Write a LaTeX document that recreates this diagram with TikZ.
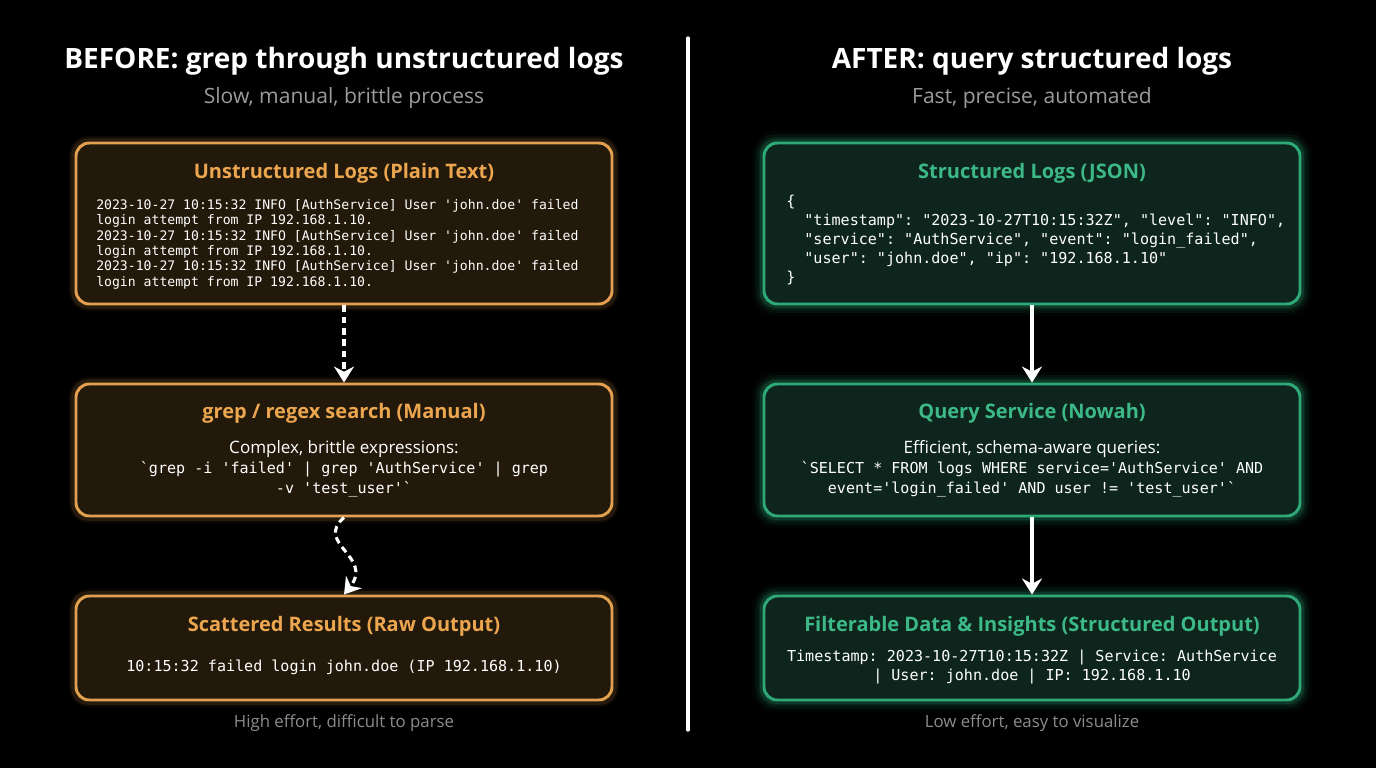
\documentclass[tikz,border=0pt]{standalone}
\usepackage{fontspec}
\setmainfont{Open Sans}
\setmonofont{DejaVu Sans Mono}
\usepackage{tikz}
\usetikzlibrary{arrows.meta,positioning,calc,backgrounds}
\definecolor{ornEdge}{RGB}{226,160,80}
\definecolor{ornFill}{RGB}{35,25,10}
\definecolor{ornText}{RGB}{236,166,80}
\definecolor{grnEdge}{RGB}{45,170,120}
\definecolor{grnFill}{RGB}{13,37,29}
\definecolor{grnText}{RGB}{60,185,135}
\definecolor{subGray}{RGB}{155,155,155}
\definecolor{capGray}{RGB}{140,140,140}
\tikzset{
  obox/.style={draw=ornEdge,line width=2.2pt,rounded corners=10pt,fill=ornFill,
    minimum width=402pt,inner sep=0pt},
  gbox/.style={draw=grnEdge,line width=2.2pt,rounded corners=10pt,fill=grnFill,
    minimum width=402pt,inner sep=0pt},
  head/.style={font=\bfseries\fontsize{21}{25}\selectfont,text=white},
  subhead/.style={font=\fontsize{15.8}{19}\selectfont,text=subGray},
  foot/.style={font=\fontsize{12.6}{15}\selectfont,text=capGray},
  otitle/.style={font=\bfseries\fontsize{15}{18}\selectfont,text=ornText},
  gtitle/.style={font=\bfseries\fontsize{15}{18}\selectfont,text=grnText},
  plain/.style={font=\fontsize{12.8}{15}\selectfont,text=white,inner sep=0pt},
  code/.style={font=\ttfamily\fontsize{11.3}{14.3}\selectfont,text=white,inner sep=0pt},
  arr/.style={-{Stealth[length=12pt,width=15pt]},line width=2.3pt,white},
  darr/.style={arr,dash pattern=on 5pt off 3.5pt},
}
\begin{document}
\begin{tikzpicture}[x=0.75pt,y=-0.75pt]
  \useasboundingbox (0,0) rectangle (1376,768);
  % headers
  \node[head] (hL) at (344,61) {BEFORE: grep through unstructured logs};
  \node[subhead] (sL) at (344,98) {Slow, manual, brittle process};
  \node[head] (hR) at (1032,61) {AFTER: query structured logs};
  \node[subhead] (sR) at (1032,98) {Fast, precise, automated};
  % divider
  \coordinate (dTop) at (688,38);
  \coordinate (dBot) at (688,730);
  \draw[white,line width=2.5pt,line cap=round] (dTop) -- (dBot);
  % before column
  \node[obox,minimum height=120.75pt] (b1) at (344,223.5) {};
  \node[obox,minimum height=99pt] (b2) at (344,450) {};
  \node[obox,minimum height=78pt] (b3) at (344,648) {};
  \node[otitle] (b1t) at (344,173) {Unstructured Logs (Plain Text)};
  \node[code,font=\ttfamily\fontsize{9.85}{11.55}\selectfont,align=left,anchor=north west]
    (b1c) at (96,199) {2023-10-27 10:15:32 INFO [AuthService] User 'john.doe' failed\\
    login attempt from IP 192.168.1.10.\\
    2023-10-27 10:15:32 INFO [AuthService] User 'john.doe' failed\\
    login attempt from IP 192.168.1.10.\\
    2023-10-27 10:15:32 INFO [AuthService] User 'john.doe' failed\\
    login attempt from IP 192.168.1.10.};
  \node[otitle] (b2t) at (344,413) {grep / regex search (Manual)};
  \node[plain] (b2p) at (344,449) {Complex, brittle expressions:};
  \node[code,align=center,font=\ttfamily\fontsize{11.3}{15}\selectfont] (b2c) at (344,479)
    {`grep -i 'failed' | grep 'AuthService' | grep\\ -v 'test\_user'`};
  \node[otitle] (b3t) at (344,626) {Scattered Results (Raw Output)};
  \node[code] (b3c) at (344,667) {10:15:32 failed login john.doe (IP 192.168.1.10)};
  \node[foot] (cL) at (344,723) {High effort, difficult to parse};
  % after column
  \node[gbox,minimum height=120.75pt] (g1) at (1032,223.5) {};
  \node[gbox,minimum height=99pt] (g2) at (1032,450) {};
  \node[gbox,minimum height=78pt] (g3) at (1032,648) {};
  \node[gtitle] (g1t) at (1032,173) {Structured Logs (JSON)};
  \node[code,align=left,anchor=north west] (g1c) at (786,195)
    {\{\\
    \phantom{xx}"timestamp": "2023-10-27T10:15:32Z", "level": "INFO",\\
    \phantom{xx}"service": "AuthService", "event": "login\_failed",\\
    \phantom{xx}"user": "john.doe", "ip": "192.168.1.10"\\
    \}};
  \node[gtitle] (g2t) at (1032,413) {Query Service (Nowah)};
  \node[plain] (g2p) at (1032,449) {Efficient, schema-aware queries:};
  \node[code,align=center,font=\ttfamily\fontsize{11.3}{15}\selectfont] (g2c) at (1032,479)
    {`SELECT * FROM logs WHERE service='AuthService' AND\\
    event='login\_failed' AND user != 'test\_user'`};
  \node[gtitle] (g3t) at (1032,626) {Filterable Data \& Insights (Structured Output)};
  \node[code,align=center] (g3c) at (1032,667)
    {Timestamp: 2023-10-27T10:15:32Z | Service: AuthService\\ | User: john.doe | IP: 192.168.1.10};
  \node[foot] (cR) at (1032,723) {Low effort, easy to visualize};
  % connectors
  \draw[darr] (b1.south) -- (b2.north);
  \draw[darr] (b2.south) .. controls +(-30,26) and +(30,-38) .. (b3.north);
  \foreach \a/\b in {g1/g2,g2/g3}
    \draw[arr] (\a.south) -- (\b.north);
  % backdrop and glow
  \begin{scope}[on background layer]
    \fill[black] (0,0) rectangle (1376,768);
    \foreach \n in {g1,g2,g3}
      \foreach \w/\o in {16/0.04,11/0.07,7/0.11,4/0.18}
        \draw[grnEdge,line width=\w pt,opacity=\o,rounded corners=10pt]
          (\n.north west) rectangle (\n.south east);
    \foreach \n in {b1,b2,b3}
      \foreach \w/\o in {8/0.06,5/0.12}
        \draw[ornEdge,line width=\w pt,opacity=\o,rounded corners=10pt]
          (\n.north west) rectangle (\n.south east);
  \end{scope}
\end{tikzpicture}
\end{document}
